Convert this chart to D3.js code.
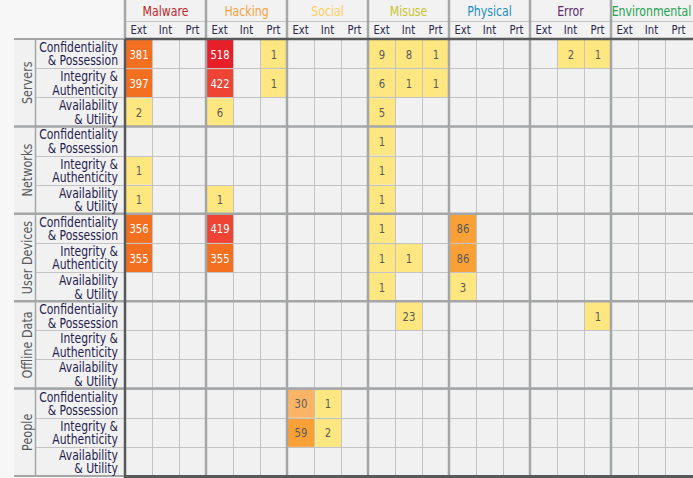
<!DOCTYPE html>
<html>
<head>
<meta charset="utf-8">
<script src="https://cdn.jsdelivr.net/npm/d3@7"></script>
<style>
  body { margin: 0; background: #f7f7f7; }
  text { font-family: "DejaVu Sans Condensed", "DejaVu Sans", sans-serif; }
</style>
</head>
<body>
<div id="chart"></div>
<script>
// ----------------------------------------------------------
// Datos
// ----------------------------------------------------------
const assets = ["Servers", "Networks", "User Devices", "Offline Data", "People"];
const attributes = [["Confidentiality", "& Possession"], ["Integrity &", "Authenticity"], ["Availability", "& Utility"]];
const actions = ["Malware", "Hacking", "Social", "Misuse", "Physical", "Error", "Environmental"];
const actionColors = ["#c1272d", "#f7a145", "#fdcf5e", "#c9c32e", "#1b8fc0", "#5b2a6b", "#1fa34f"];
const actors = ["Ext", "Int", "Prt"];

// una fila por asset/atributo, 21 columnas (accion x actor), null = vacio
const n = null;
const servers = [
  [381, n, n,  518, n, 1,  n, n, n,  9, 8, 1,  n, n, n,  n, 2, 1,  n, n, n],
  [397, n, n,  422, n, 1,  n, n, n,  6, 1, 1,  n, n, n,  n, n, n,  n, n, n],
  [2, n, n,    6, n, n,    n, n, n,  5, n, n,  n, n, n,  n, n, n,  n, n, n]
];
const networks = [
  [n, n, n,    n, n, n,    n, n, n,  1, n, n,  n, n, n,  n, n, n,  n, n, n],
  [1, n, n,    n, n, n,    n, n, n,  1, n, n,  n, n, n,  n, n, n,  n, n, n],
  [1, n, n,    1, n, n,    n, n, n,  1, n, n,  n, n, n,  n, n, n,  n, n, n]
];
const userDevices = [
  [356, n, n,  419, n, n,  n, n, n,  1, n, n,  86, n, n, n, n, n,  n, n, n],
  [355, n, n,  355, n, n,  n, n, n,  1, 1, n,  86, n, n, n, n, n,  n, n, n],
  [n, n, n,    n, n, n,    n, n, n,  1, n, n,  3, n, n,  n, n, n,  n, n, n]
];
const offlineData = [
  [n, n, n,    n, n, n,    n, n, n,  n, 23, n, n, n, n,  n, n, 1,  n, n, n],
  [n, n, n,    n, n, n,    n, n, n,  n, n, n,  n, n, n,  n, n, n,  n, n, n],
  [n, n, n,    n, n, n,    n, n, n,  n, n, n,  n, n, n,  n, n, n,  n, n, n]
];
const people = [
  [n, n, n,    n, n, n,    30, 1, n, n, n, n,  n, n, n,  n, n, n,  n, n, n],
  [n, n, n,    n, n, n,    59, 2, n, n, n, n,  n, n, n,  n, n, n,  n, n, n],
  [n, n, n,    n, n, n,    n, n, n,  n, n, n,  n, n, n,  n, n, n,  n, n, n]
];
const matrix = [servers, networks, userDevices, offlineData, people];

// ----------------------------------------------------------
// Utils
// ----------------------------------------------------------
const width = 693;
const height = 478;
const grid = { left: 125, right: 692, top: 39, bottom: 476, title: 21 };
const narrow = 0.86; // la fuente original es condensada

const colKeys = actions.flatMap(a => actors.map(b => a + "|" + b));
const rowKeys = assets.flatMap(a => attributes.map((t, i) => a + "|" + i));

const x = d3.scaleBand().domain(colKeys).range([grid.left, grid.right]);
const y = d3.scaleBand().domain(rowKeys).range([grid.top, grid.bottom]);
const xGroup = d3.scaleBand().domain(actions).range([grid.left, grid.right]);
const yGroup = d3.scaleBand().domain(assets).range([grid.top, grid.bottom]);

const color = d3.scaleThreshold()
  .domain([25, 50, 300, 400, 500])
  .range(["#fee680", "#fbb465", "#f9a136", "#f37021", "#ef4433", "#e71f28"]);

const cells = [];
assets.forEach((a, ai) => {
  attributes.forEach((t, ti) => {
    actions.forEach((ac, ci) => {
      actors.forEach((ak, ki) => {
        const v = matrix[ai][ti][ci * 3 + ki];
        if (v !== null) cells.push({ row: a + "|" + ti, col: ac + "|" + ak, value: v });
      });
    });
  });
});

// ----------------------------------------------------------
// Grafica
// ----------------------------------------------------------
const svg = d3.select("#chart").append("svg")
  .attr("width", width)
  .attr("height", height)
  .style("display", "block");

// fondos
svg.append("rect").attr("x", grid.left).attr("y", 0)
  .attr("width", grid.right - grid.left + 1).attr("height", grid.top)
  .attr("fill", "#f2f2f2");
svg.append("rect").attr("x", 14).attr("y", grid.top)
  .attr("width", grid.right - 14 + 1).attr("height", grid.bottom - grid.top)
  .attr("fill", "#f1f1f1");

// celdas coloreadas
svg.append("g").selectAll("rect").data(cells).join("rect")
  .attr("x", d => x(d.col) + 1)
  .attr("y", d => y(d.row) + 1)
  .attr("width", x.bandwidth() - 1)
  .attr("height", y.bandwidth() - 1)
  .attr("fill", d => color(d.value));

// lineas finas
const lines = svg.append("g");
lines.selectAll(".vthin").data(colKeys).join("line")
  .attr("x1", d => x(d) + 0.5).attr("x2", d => x(d) + 0.5)
  .attr("y1", grid.top).attr("y2", grid.bottom)
  .attr("stroke", "#c3c3c5").attr("stroke-width", 1);
lines.selectAll(".hthin").data(rowKeys).join("line")
  .attr("x1", 35).attr("x2", grid.right + 1)
  .attr("y1", d => Math.round(y(d)) + 0.5).attr("y2", d => Math.round(y(d)) + 0.5)
  .attr("stroke", "#c3c3c5").attr("stroke-width", 1);
lines.append("line")
  .attr("x1", grid.left).attr("x2", grid.right + 1)
  .attr("y1", grid.title + 0.5).attr("y2", grid.title + 0.5)
  .attr("stroke", "#c3c3c5");

// lineas de grupo
lines.selectAll(".vgroup").data(actions.slice(1)).join("line")
  .attr("x1", d => xGroup(d)).attr("x2", d => xGroup(d))
  .attr("y1", 0).attr("y2", grid.bottom)
  .attr("stroke", "#a5a6a8").attr("stroke-width", 2.5);
lines.selectAll(".hgroup").data(assets.slice(1)).join("line")
  .attr("x1", 14).attr("x2", grid.right + 1)
  .attr("y1", d => yGroup(d)).attr("y2", d => yGroup(d))
  .attr("stroke", "#a5a6a8").attr("stroke-width", 2.5);
lines.append("line")
  .attr("x1", 35.5).attr("x2", 35.5)
  .attr("y1", grid.top).attr("y2", grid.bottom)
  .attr("stroke", "#a5a6a8").attr("stroke-width", 1.5);
lines.append("line")
  .attr("x1", 14).attr("x2", grid.left)
  .attr("y1", grid.top).attr("y2", grid.top)
  .attr("stroke", "#a5a6a8").attr("stroke-width", 2);
lines.append("line")
  .attr("x1", 14).attr("x2", grid.left)
  .attr("y1", grid.bottom).attr("y2", grid.bottom)
  .attr("stroke", "#a5a6a8").attr("stroke-width", 2);
lines.append("line")
  .attr("x1", grid.left).attr("x2", grid.left)
  .attr("y1", 0).attr("y2", grid.top)
  .attr("stroke", "#a5a6a8").attr("stroke-width", 2.5);

// bordes oscuros
lines.append("line")
  .attr("x1", grid.left).attr("x2", width)
  .attr("y1", grid.top).attr("y2", grid.top)
  .attr("stroke", "#58595b").attr("stroke-width", 2.5);
lines.append("line")
  .attr("x1", grid.left).attr("x2", width)
  .attr("y1", grid.bottom + 0.5).attr("y2", grid.bottom + 0.5)
  .attr("stroke", "#58595b").attr("stroke-width", 3);
lines.append("line")
  .attr("x1", grid.left).attr("x2", grid.left)
  .attr("y1", grid.top).attr("y2", height)
  .attr("stroke", "#58595b").attr("stroke-width", 2.5);

// valores
svg.append("g").selectAll("text").data(cells).join("text")
  .attr("transform", d => `translate(${x(d.col) + x.bandwidth() / 2 + 0.5}, ${y(d.row) + y.bandwidth() / 2 + 5}) scale(${narrow}, 1)`)
  .attr("text-anchor", "middle")
  .attr("font-size", 13)
  .attr("fill", d => d.value >= 300 ? "#ffffff" : "#5a5a5a")
  .text(d => d.value);

// cabecera
svg.append("g").selectAll("text").data(actions).join("text")
  .attr("transform", d => `translate(${xGroup(d) + xGroup.bandwidth() / 2}, 16) scale(0.84, 1)`)
  .attr("text-anchor", "middle")
  .attr("font-size", 14.5)
  .attr("fill", (d, i) => actionColors[i])
  .text(d => d);
svg.append("g").selectAll("text").data(colKeys).join("text")
  .attr("transform", d => `translate(${x(d) + x.bandwidth() / 2}, 34) scale(${narrow}, 1)`)
  .attr("text-anchor", "middle")
  .attr("font-size", 13)
  .attr("fill", "#2b2b4f")
  .text(d => d.split("|")[1]);

// etiquetas de filas
const rowLabels = svg.append("g").selectAll("text").data(rowKeys).join("text")
  .attr("transform", d => `translate(118, ${y(d)}) scale(${narrow}, 1)`)
  .attr("text-anchor", "end")
  .attr("font-size", 14)
  .attr("fill", "#1f2150");
rowLabels.append("tspan")
  .attr("x", 0).attr("y", 13)
  .text(d => attributes[+d.split("|")[1]][0]);
rowLabels.append("tspan")
  .attr("x", 0).attr("y", 26.5)
  .text(d => attributes[+d.split("|")[1]][1]);

svg.append("g").selectAll("text").data(assets).join("text")
  .attr("transform", d => `translate(32, ${yGroup(d) + yGroup.bandwidth() / 2}) rotate(-90) scale(${narrow}, 1)`)
  .attr("text-anchor", "middle")
  .attr("font-size", 14.5)
  .attr("fill", "#58595b")
  .text(d => d);
</script>
</body>
</html>
